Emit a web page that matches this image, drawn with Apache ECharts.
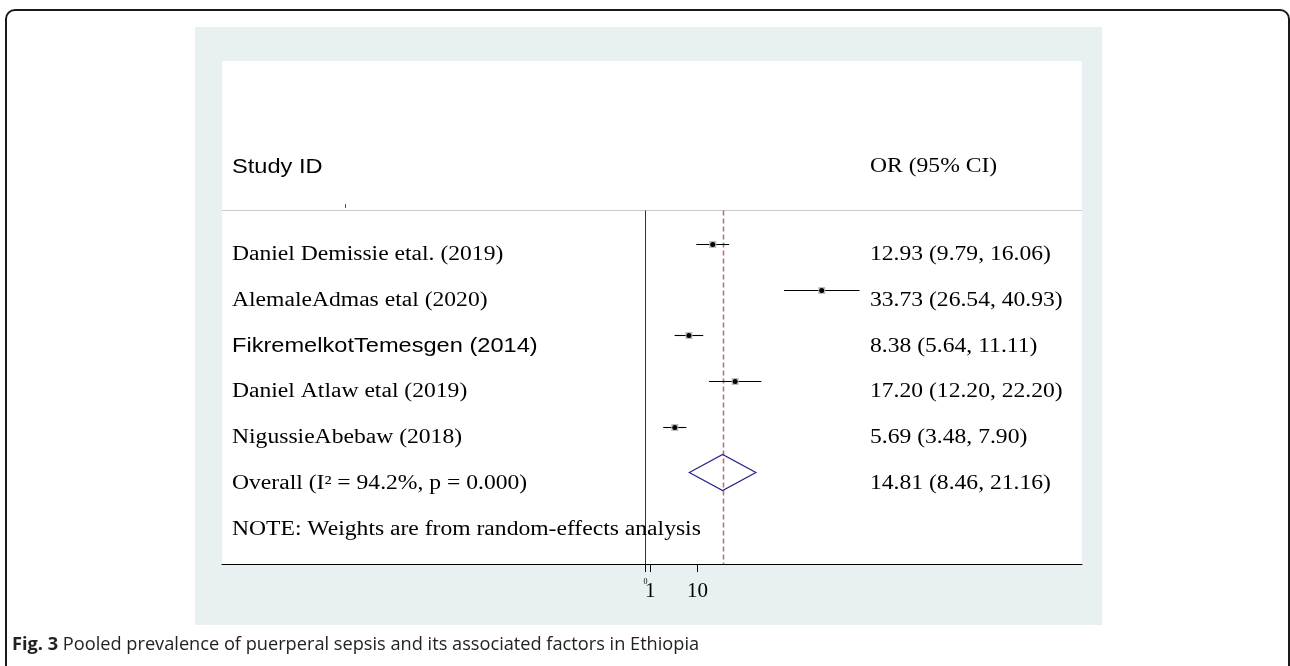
<!DOCTYPE html>
<html>
<head>
<meta charset="utf-8">
<script src="https://cdn.jsdelivr.net/npm/echarts@6/dist/echarts.min.js"></script>
<style>
html,body{margin:0;padding:0;background:#fff;}
#chart{width:1290px;height:666px;}
</style>
</head>
<body>
<div id="chart"></div>
<script>
// ---------- data ----------
const studies = [
  'Daniel Demissie etal. (2019)',
  'AlemaleAdmas etal (2020)',
  'FikremelkotTemesgen (2014)',
  'Daniel Atlaw etal (2019)',
  'NigussieAbebaw (2018)'
];
const orValues = [12.93, 33.73, 8.38, 17.20, 5.69];
const ciLower  = [9.79, 26.54, 5.64, 12.20, 3.48];
const ciUpper  = [16.06, 40.93, 11.11, 22.20, 7.90];
const overallLabel = 'Overall (I² = 94.2%, p = 0.000)';
const overallValues = [14.81, 8.46, 21.16]; // estimate, lower, upper
const noteText = 'NOTE: Weights are from random-effects analysis';
const headerLeft = 'Study ID';
const headerRight = 'OR (95% CI)';
const xTickValues = [0, 1, 10];
const xTickLabels = ['0', '1', '10'];
const captionBold = 'Fig. 3';
const captionText = ' Pooled prevalence of puerperal sepsis and its associated factors in Ethiopia';

// ---------- styles ----------
const SERIF = 'Liberation Serif, Times New Roman, serif';
const SANS = 'Liberation Sans, Arial, sans-serif';
const sansNameRows = [2];
const TEXT_SIZE = 20;
const TEXT_SX = 1.18;
const TEXT_DY = 11;

const fmt = v => v.toFixed(2);
const rowsText = [];
studies.forEach((s, i) => {
  rowsText.push({row: i + 1, left: s, right: fmt(orValues[i]) + ' (' + fmt(ciLower[i]) + ', ' + fmt(ciUpper[i]) + ')', sans: sansNameRows.indexOf(i) >= 0});
});
rowsText.push({row: studies.length + 1, left: overallLabel, right: fmt(overallValues[0]) + ' (' + fmt(overallValues[1]) + ', ' + fmt(overallValues[2]) + ')', sans: false});
rowsText.push({row: studies.length + 2, left: noteText, right: '', sans: false});

const studyData = studies.map((s, i) => [orValues[i], ciLower[i], ciUpper[i], i + 1]);
const overallRow = studies.length + 1;
const bigTickValues = xTickValues.filter(v => v !== 0);

const chart = echarts.init(document.getElementById('chart'), null, {renderer: 'canvas'});

function textEl(x, y, text, font, align) {
  return {
    type: 'text', x: x, y: y, scaleX: TEXT_SX, scaleY: 1,
    style: {text: text, x: 0, y: 0, fill: '#000', font: TEXT_SIZE + 'px ' + font, align: align || 'left', verticalAlign: 'middle'}
  };
}

const option = {
  animation: false,
  backgroundColor: '#fff',
  graphic: [
    {type: 'rect', z: -10, shape: {x: 6, y: 10, width: 1283, height: 720, r: 9}, style: {fill: '#fff', stroke: '#1a1a1a', lineWidth: 2}},
    {type: 'rect', z: -9, shape: {x: 195, y: 27, width: 907, height: 598}, style: {fill: '#e9f0f2'}},
    {type: 'line', z: 5, shape: {x1: 345.5, y1: 204, x2: 345.5, y2: 208}, style: {stroke: '#555', lineWidth: 1}},
    {type: 'text', z: 5, x: 12, y: 645, style: {
      text: '{b|' + captionBold + '}{n|' + captionText + '}',
      verticalAlign: 'middle',
      rich: {
        b: {font: 'bold 18.2px Open Sans, Noto Sans, sans-serif', fill: '#222'},
        n: {font: '18.2px Open Sans, Noto Sans, sans-serif', fill: '#222'}
      }
    }}
  ],
  grid: {left: 222, top: 61, width: 860, height: 503, show: true, backgroundColor: '#fff', borderWidth: 0, containLabel: false},
  xAxis: {
    type: 'value', min: -80.73, max: 83.4,
    splitLine: {show: false},
    axisLine: {show: true, onZero: false, lineStyle: {color: '#000', width: 1}},
    axisTick: {show: true, customValues: xTickValues, length: 8, lineStyle: {color: '#000'}},
    axisLabel: {
      show: true, customValues: bigTickValues, margin: 17, color: '#000',
      fontFamily: SERIF, fontSize: 21,
      formatter: function (v) {
        const i = xTickValues.indexOf(v);
        return i >= 0 ? xTickLabels[i] : '';
      }
    }
  },
  yAxis: {type: 'value', min: -3, max: 8, inverse: true, show: false},
  series: [
    { // header line + reference lines + tiny zero label
      type: 'custom', silent: true, z: 2,
      data: [[0]],
      renderItem: function (params, api) {
        const cs = params.coordSys;
        const yTop = Math.round(api.coord([0, 0.25])[1]) + 0.5;
        const yBot = cs.y + cs.height;
        const x0 = Math.round(api.coord([0, 0])[0]) + 0.5;
        const xo = Math.round(api.coord([overallValues[0], 0])[0]) + 0.5;
        return {type: 'group', children: [
          {type: 'line', shape: {x1: cs.x, y1: yTop, x2: cs.x + cs.width, y2: yTop}, style: {stroke: '#c8c8c8', lineWidth: 1}},
          {type: 'line', shape: {x1: x0, y1: yTop, x2: x0, y2: yBot}, style: {stroke: '#333', lineWidth: 1}},
          {type: 'line', shape: {x1: xo, y1: yTop, x2: xo, y2: yBot}, style: {stroke: '#c26a76', lineWidth: 1.6, lineDash: [5, 3]}},
          {type: 'text', x: x0, y: yBot + 18, style: {text: xTickLabels[0], fill: '#000', font: '8px ' + SERIF, align: 'center', verticalAlign: 'middle'}}
        ]};
      }
    },
    { // studies
      type: 'custom', silent: true, z: 3,
      encode: {x: [0, 1, 2], y: 3},
      data: studyData,
      renderItem: function (params, api) {
        const est = api.value(0), lo = api.value(1), hi = api.value(2), row = api.value(3);
        const pL = api.coord([lo, row]), pH = api.coord([hi, row]), pE = api.coord([est, row]);
        const y = Math.round(pE[1]) + 0.5;
        return {type: 'group', children: [
          {type: 'line', shape: {x1: pL[0], y1: y, x2: pH[0], y2: y}, style: {stroke: '#000', lineWidth: 1.1}},
          {type: 'rect', shape: {x: pE[0] - 3.5, y: y - 3.5, width: 7, height: 7}, style: {fill: '#bdbdbd'}},
          {type: 'circle', shape: {cx: pE[0], cy: y, r: 2.5}, style: {fill: '#000'}}
        ]};
      }
    },
    { // overall diamond
      type: 'custom', silent: true, z: 3,
      encode: {x: [0, 1, 2], y: 3},
      data: [[overallValues[0], overallValues[1], overallValues[2], overallRow]],
      renderItem: function (params, api) {
        const row = api.value(3);
        const pE = api.coord([api.value(0), row]), pL = api.coord([api.value(1), row]), pH = api.coord([api.value(2), row]);
        const h = 18;
        return {type: 'polygon', shape: {points: [[pL[0], pE[1]], [pE[0], pE[1] - h], [pH[0], pE[1]], [pE[0], pE[1] + h]]},
          style: {fill: 'none', stroke: '#22228a', lineWidth: 1.2}};
      }
    },
    { // text rows
      type: 'custom', silent: true, z: 4,
      data: rowsText.map(r => [0, r.row]),
      renderItem: function (params, api) {
        const cs = params.coordSys;
        const r = rowsText[params.dataIndex];
        const y = api.coord([0, r.row])[1] + TEXT_DY;
        const children = [textEl(cs.x + 10, y, r.left, r.sans ? SANS : SERIF)];
        if (r.right) children.push(textEl(cs.x + 648, y, r.right, SERIF));
        return {type: 'group', children: children};
      }
    },
    { // headers
      type: 'custom', silent: true, z: 4,
      data: [[0, -0.68]],
      renderItem: function (params, api) {
        const cs = params.coordSys;
        const y = api.coord([0, api.value(1)])[1];
        return {type: 'group', children: [
          textEl(cs.x + 10, y, headerLeft, SANS),
          textEl(cs.x + 648, y, headerRight, SERIF)
        ]};
      }
    }
  ]
};
chart.setOption(option);
</script>
</body>
</html>
